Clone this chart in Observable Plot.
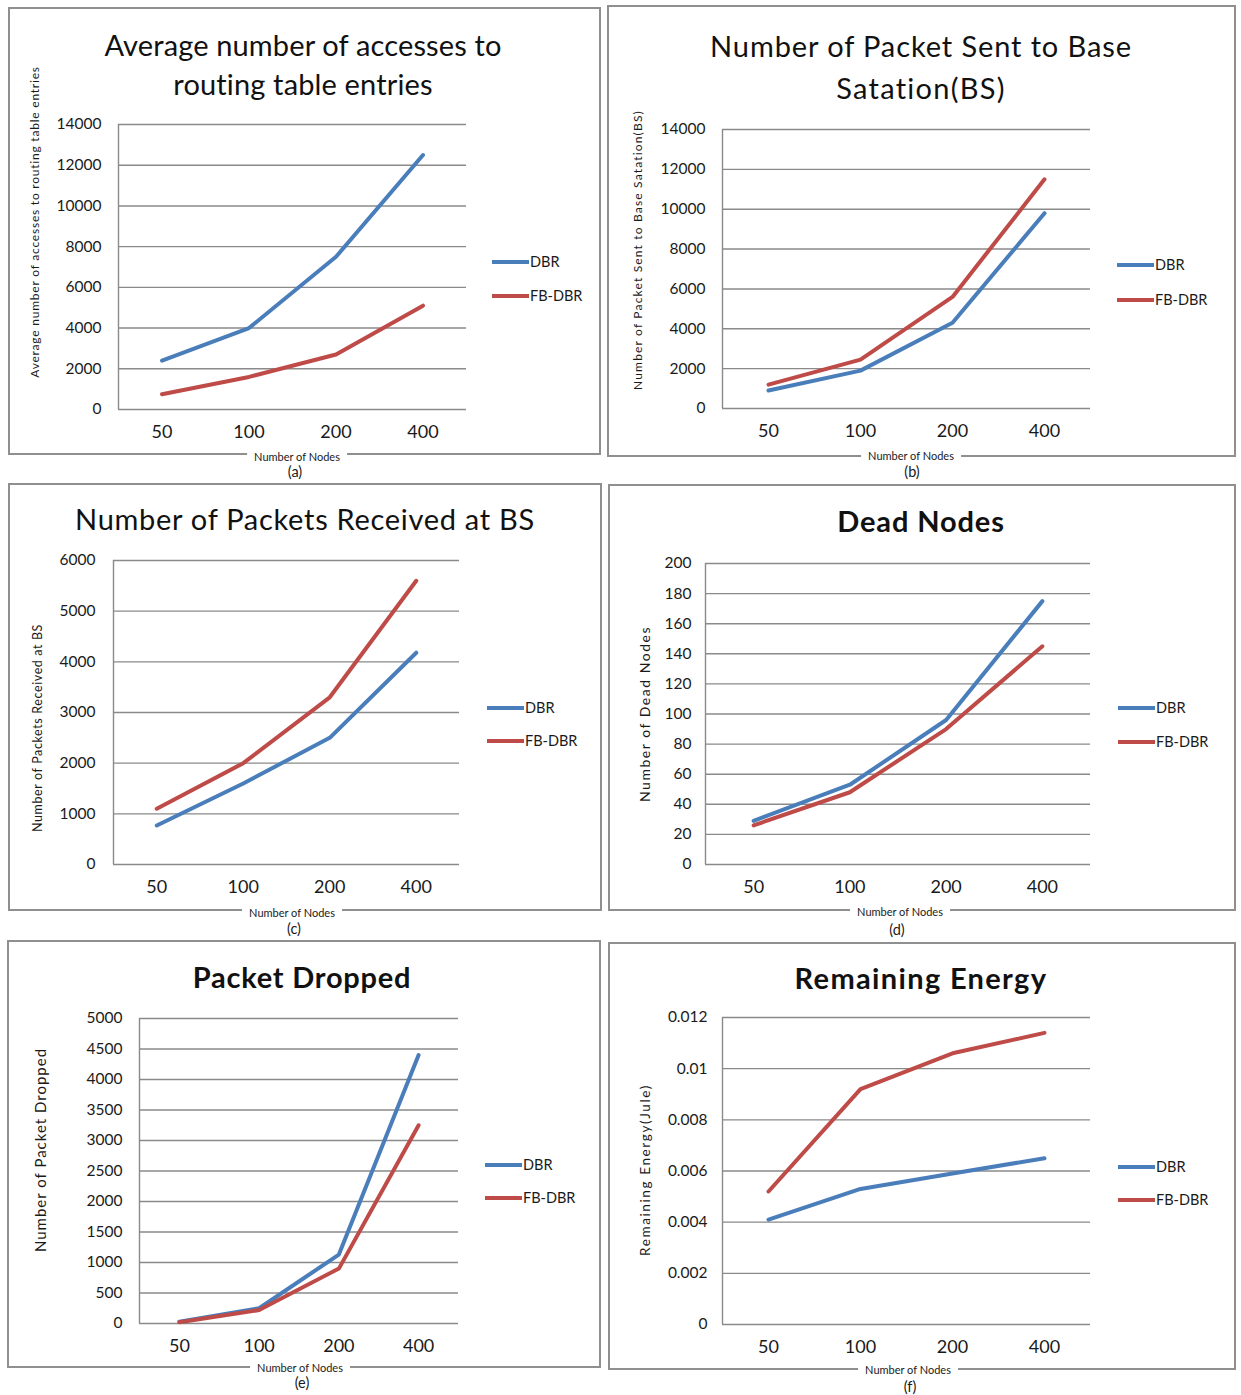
<!DOCTYPE html>
<html>
<head>
<meta charset="utf-8">
<script src="https://cdn.jsdelivr.net/npm/d3@7"></script>
<script src="https://cdn.jsdelivr.net/npm/@observablehq/plot@0.6"></script>
<style>
  html, body { margin: 0; padding: 0; background: #fff; }
  #page { position: relative; width: 1241px; height: 1395px; overflow: hidden; font-family: Lato, "Open Sans", sans-serif; color: #111; }
  .abs { position: absolute; white-space: nowrap; line-height: 1; }
  .box { position: absolute; border: 2px solid #8f8f8f; box-sizing: border-box; }
  .svgwrap { position: absolute; }
</style>
</head>
<body>
<div id="page"></div>
<script>
// ---------- data ----------
const nodes = ["50", "100", "200", "400"];
const seriesNames = ["DBR", "FB-DBR"];

const accessDBR = [2400, 4000, 7500, 12500];
const accessFB  = [750, 1600, 2700, 5100];

const sentDBR = [900, 1900, 4300, 9800];
const sentFB  = [1200, 2450, 5600, 11500];

const recvDBR = [770, 1600, 2500, 4180];
const recvFB  = [1100, 2000, 3300, 5600];

const deadDBR = [29, 53, 96, 175];
const deadFB  = [26, 48, 90, 145];

const dropDBR = [30, 250, 1130, 4400];
const dropFB  = [20, 220, 900, 3250];

const energyDBR = [0.0041, 0.0053, 0.0059, 0.0065];
const energyFB  = [0.0052, 0.0092, 0.0106, 0.0114];

const ticksAccess = [0, 2000, 4000, 6000, 8000, 10000, 12000, 14000];
const ticksSent   = [0, 2000, 4000, 6000, 8000, 10000, 12000, 14000];
const ticksRecv   = [0, 1000, 2000, 3000, 4000, 5000, 6000];
const ticksDead   = [0, 20, 40, 60, 80, 100, 120, 140, 160, 180, 200];
const ticksDrop   = [0, 500, 1000, 1500, 2000, 2500, 3000, 3500, 4000, 4500, 5000];
const ticksEnergy = [0, 0.002, 0.004, 0.006, 0.008, 0.01, 0.012];
const energyLabels = ["0", "0.002", "0.004", "0.006", "0.008", "0.01", "0.012"];

const titles = {
  a: ["Average number of accesses to", "routing table entries"],
  b: ["Number of Packet Sent to Base", "Satation(BS)"],
  c: ["Number of Packets Received at BS"],
  d: ["Dead Nodes"],
  e: ["Packet Dropped"],
  f: ["Remaining Energy"]
};
const yTitles = {
  a: "Average number of accesses to routing table entries",
  b: "Number of Packet Sent to Base Satation(BS)",
  c: "Number of Packets Received at BS",
  d: "Number  of  Dead Nodes",
  e: "Number  of Packet Dropped",
  f: "Remaining Energy(Jule)"
};
const xTitle = "Number of Nodes";

// ---------- layout ----------
const blue = "#4a7ebb", red = "#be4b48", grid = "#8a8a8a";
const panels = [
  {id:"a", box:[8,7,601,455], area:[118,466,124,409], dbr:accessDBR, fb:accessFB, ticks:ticksAccess, fmt:d=>String(d),
   tcx:303, titleY:[44,83], titleLen:[397,260], titleW:400, ySize:12, yLen:311, yPos:[35,222], gap:17, legend:[492,262,296], xt:[297,456], cap:[295,472]},
  {id:"b", box:[607,5,1236,457], area:[722,1090,129,408], dbr:sentDBR, fb:sentFB, ticks:ticksSent, fmt:d=>String(d),
   tcx:921, titleY:[45,87], titleLen:[421,169], titleW:400, ySize:12, yLen:279, yPos:[638,250], gap:17, legend:[1117,265,300], xt:[911,455], cap:[912,472]},
  {id:"c", box:[8,483,602,911], area:[113,459,560,864], dbr:recvDBR, fb:recvFB, ticks:ticksRecv, fmt:d=>String(d),
   tcx:305, titleY:[518], titleLen:[459], titleW:400, ySize:12.5, yLen:207, yPos:[38,728], gap:18, legend:[487,708,741], xt:[292,912], cap:[294,929]},
  {id:"d", box:[608,484,1236,911], area:[705,1090,563,864], dbr:deadDBR, fb:deadFB, ticks:ticksDead, fmt:d=>String(d),
   tcx:921, titleY:[520], titleLen:[167], titleW:700, ySize:14, yLen:178, yPos:[645,714], gap:14, legend:[1118,708,742], xt:[900,911], cap:[897,930]},
  {id:"e", box:[7,940,601,1368], area:[139,458,1018,1323], dbr:dropDBR, fb:dropFB, ticks:ticksDrop, fmt:d=>String(d),
   tcx:302, titleY:[976], titleLen:[218], titleW:700, ySize:15, yLen:204, yPos:[40,1150], gap:17, legend:[485,1165,1198], xt:[300,1367], cap:[302,1383]},
  {id:"f", box:[608,942,1236,1370], area:[722,1090,1017,1324], dbr:energyDBR, fb:energyFB, ticks:ticksEnergy, fmt:(d,i)=>energyLabels[i],
   tcx:921, titleY:[977], titleLen:[251], titleW:700, ySize:13.5, yLen:170, yPos:[646,1170], gap:15, legend:[1118,1167,1200], xt:[908,1369], cap:[910,1387]}
];

const page = document.getElementById("page");

function addText(txt, x, y, opts = {}) {
  const el = document.createElement("div");
  el.className = "abs";
  el.textContent = txt;
  el.style.left = x + "px";
  el.style.top = y + "px";
  el.style.fontSize = (opts.size || 14) + "px";
  el.style.fontWeight = opts.weight || 400;
  if (opts.color) el.style.color = opts.color;
  if (opts.bg) { el.style.background = opts.bg; el.style.padding = "0 7px"; }
  let tf = opts.anchorLeft ? "translate(0,-50%)" : "translate(-50%,-50%)";
  if (opts.rotate) tf += ` rotate(${opts.rotate}deg)`;
  el.style.transform = tf;
  page.appendChild(el);
  if (opts.len) {
    const w = el.offsetWidth;
    const n = Math.max(1, txt.length - 1);
    el.style.letterSpacing = ((opts.len - w) / n) + "px";
  }
  return el;
}

for (const p of panels) {
  const [bx0, by0, bx1, by1] = p.box;
  const [ax0, ax1, ay0, ay1] = p.area;
  const W = bx1 - bx0, H = by1 - by0;

  const box = document.createElement("div");
  box.className = "box";
  Object.assign(box.style, {left: bx0 + "px", top: by0 + "px", width: W + "px", height: H + "px"});
  page.appendChild(box);

  const rows = nodes.map((n, i) => ({i, v: p.dbr[i], s: seriesNames[0]}));
  const rowsFB = nodes.map((n, i) => ({i, v: p.fb[i], s: seriesNames[1]}));

  const chart = Plot.plot({
    width: W, height: H,
    marginLeft: ax0 - bx0, marginRight: bx1 - ax1,
    marginTop: ay0 - by0, marginBottom: by1 - ay1,
    style: {fontFamily: "Lato, 'Open Sans', sans-serif", background: "transparent", color: "#1a1a1a", overflow: "visible"},
    x: {type: "linear", domain: [-0.5, nodes.length - 0.5], axis: null},
    y: {domain: [0, p.ticks[p.ticks.length - 1]], axis: null},
    marks: [
      Plot.gridY(p.ticks, {stroke: grid, strokeOpacity: 1, strokeWidth: 1.4}),
      Plot.ruleX([-0.5], {stroke: grid, strokeWidth: 1.4}),
      Plot.axisY(p.ticks, {tickSize: 0, tickPadding: p.gap, tickFormat: p.fmt, fontSize: 15.5, label: null, fill: "#1a1a1a"}),
      Plot.axisX(nodes.map((n, i) => i), {tickSize: 0, tickPadding: 16, tickFormat: i => nodes[i], fontSize: 18, label: null, fill: "#1a1a1a"}),
      Plot.line(rows, {x: "i", y: "v", stroke: blue, strokeWidth: 4}),
      Plot.line(rowsFB, {x: "i", y: "v", stroke: red, strokeWidth: 4})
    ]
  });
  const wrap = document.createElement("div");
  wrap.className = "svgwrap";
  Object.assign(wrap.style, {left: bx0 + "px", top: by0 + "px", width: W + "px", height: H + "px"});
  wrap.appendChild(chart);
  page.appendChild(wrap);

  // title
  titles[p.id].forEach((t, k) => addText(t, p.tcx, p.titleY[k], {size: 29, weight: p.titleW, len: p.titleLen[k]}));

  // y title
  addText(yTitles[p.id], p.yPos[0], p.yPos[1], {size: p.ySize, rotate: -90, color: "#1a1a1a", len: p.yLen});

  // legend
  const [lx, ly1, ly2] = p.legend;
  [[blue, seriesNames[0], ly1], [red, seriesNames[1], ly2]].forEach(([c, name, yy]) => {
    const sw = document.createElement("div");
    Object.assign(sw.style, {position: "absolute", left: lx + "px", top: (yy - 2) + "px", width: "37px", height: "4px", background: c});
    page.appendChild(sw);
    addText(name, lx + 38, yy, {size: 14.5, anchorLeft: true, color: "#1a1a1a"});
  });

  // x title on border, caption
  addText(xTitle, p.xt[0], p.xt[1], {size: 11, bg: "#fff", color: "#1a1a1a"});
  addText("(" + p.id + ")", p.cap[0], p.cap[1], {size: 14.5, color: "#1a1a1a"});
}
</script>
</body>
</html>
